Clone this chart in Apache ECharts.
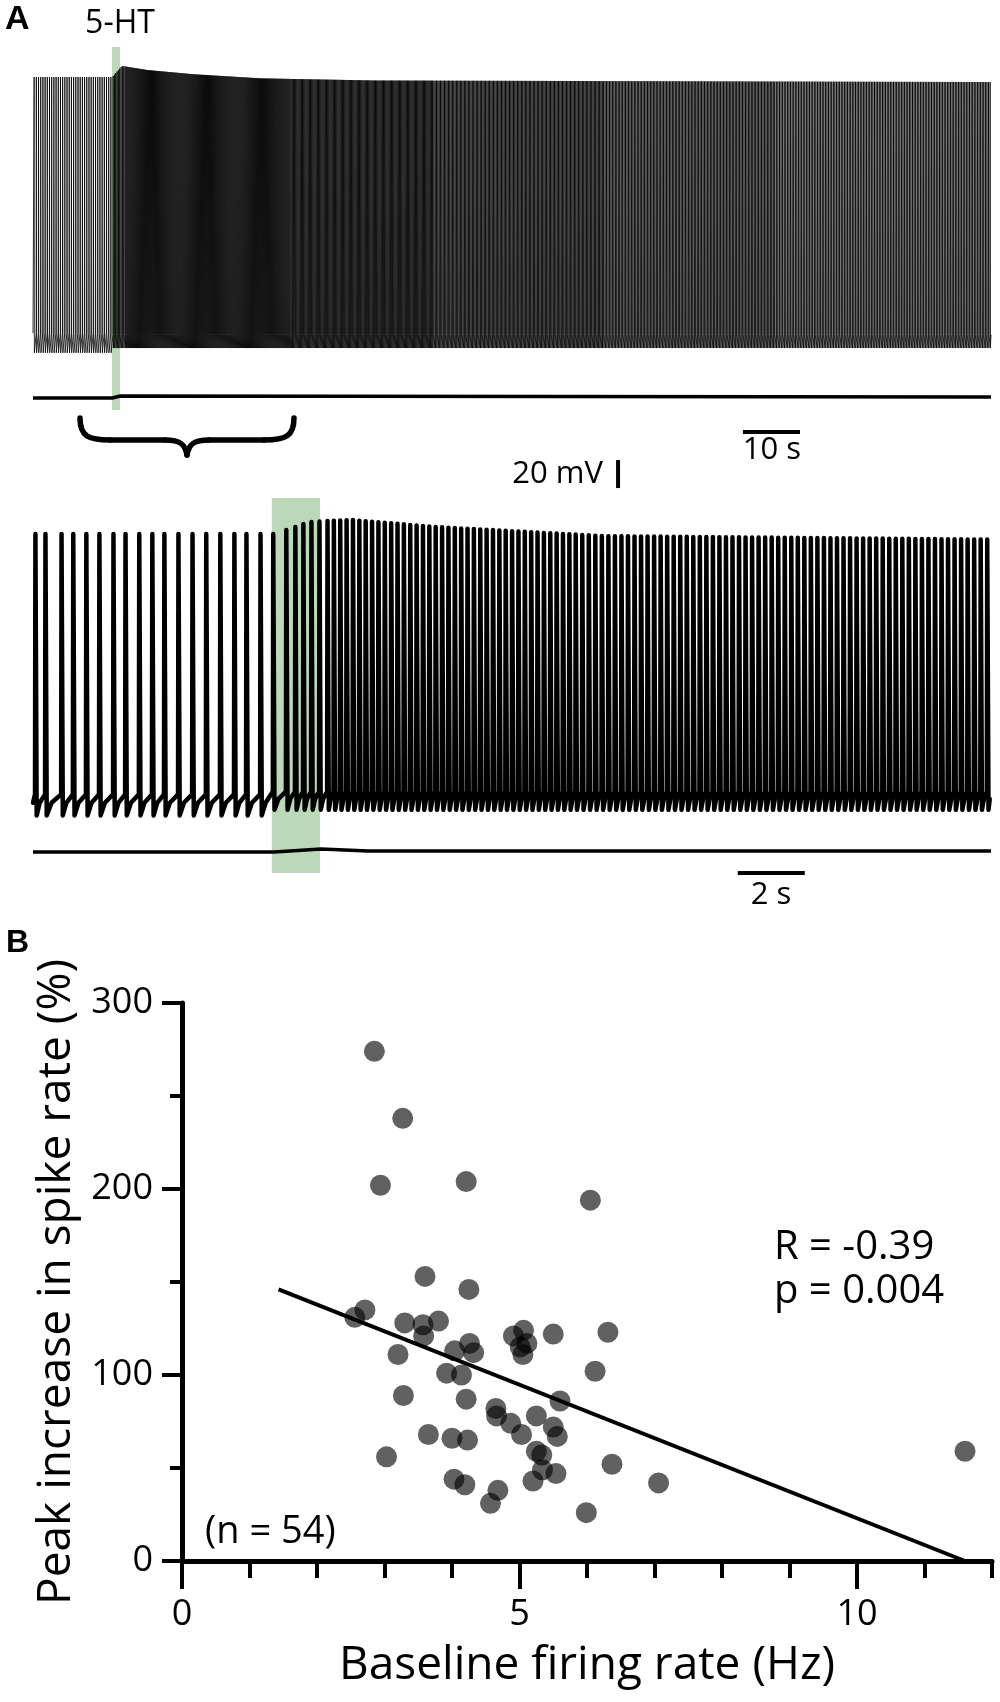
<!DOCTYPE html>
<html>
<head>
<meta charset="utf-8">
<script src="https://cdn.jsdelivr.net/npm/echarts@6/dist/echarts.min.js"></script>
<style>
html, body { margin: 0; padding: 0; background: #fff; }
#main { width: 1000px; height: 1702px; }
</style>
</head>
<body>
<div id="main"></div>
<script>
// ---- panel A, slow sweep (time in s, rate in Hz, voltage in mV of the 20 mV bar) ----
var topSegStart = [0, 13.9, 16, 45, 70, 100, 130];
var topSegRate = [2.6, 4.3, 5.6, 5.0, 4.3, 3.9, 3.6];
var topPeakT = [0, 13.9, 15.6, 20, 28, 40, 60, 168];
var topPeakMv = [0, 0, 7.9, 5, 2, -1, -2.5, -3.6];
var topThrMv = [-183, -184];      // before / after 5-HT
var topTroughMv = [-197, -193.6];
var topCurT = [0, 13.9, 15.3, 168];
var topCurPa = [0, 0, 2, 1];
var topDrugT = [13.85, 15.26];
var topEndT = 168;
var topBar10s = [124.5, 134.5];
var voltBarT = 102.6;

// ---- panel A, fast sweep ----
var botSpikeT = [0.06, 0.36, 0.84, 1.19, 1.58, 1.97, 2.39, 2.75, 3.16, 3.55, 3.91, 4.33, 4.75,
  5.16, 5.58, 6.0, 6.36, 6.78, 7.16, 7.55, 7.82, 8.06, 8.30, 8.54, 8.78];
var botSegStart = [8.78, 16];
var botSegIsi = [0.19, 0.195];
var botEndT = 28.6;
var botPeakT = [0, 7.16, 7.55, 7.82, 8.06, 8.30, 8.54, 9.5, 12, 17, 28.6];
var botPeakMv = [0, 0, 2.9, 5, 7.1, 8.6, 9, 10, 5, -1.5, -4];
var botThrMv = [-186, -184];
var botTroughMv = [-201, -197];
var botCurT = [0, 7.2, 8.6, 10, 28.6];
var botCurPa = [-1, -1, 2, 0, 0];
var botDrugT = [7.13, 8.57];
var botBar2s = [21.04, 23.04];

// ---- panel B ----
var baseRate = [2.85, 3.27, 2.94, 4.21, 6.05, 3.60, 4.25, 2.56, 2.71, 3.30, 3.57, 3.58, 3.80, 3.20,
  4.04, 4.26, 4.32, 4.91, 5.06, 5.11, 5.01, 5.05, 5.50, 6.31, 6.12, 3.92, 4.14, 3.28, 4.21, 4.65,
  4.66, 4.87, 5.25, 5.60, 5.03, 5.50, 5.56, 3.65, 4.00, 4.23, 3.03, 5.25, 5.33, 5.34, 5.54, 5.20,
  6.37, 7.06, 4.03, 4.19, 4.68, 4.57, 5.99, 11.6];
var peakIncrease = [274, 238, 202, 204, 194, 153, 146, 131, 135, 128, 127, 121, 129, 111, 113,
  117, 112, 121, 124, 117, 115, 111, 122, 123, 102, 101, 100, 89, 87, 82, 78, 74, 78, 86, 68,
  72, 67, 68, 66, 65, 56, 59, 57, 49, 47, 43, 52, 42, 44, 41, 38, 31, 26, 59];
var fitX = [1.43, 11.6];
var fitY = [146, 0];
var xTickLabels = [0, 5, 10];

function envelope(ts, vs, t) {
  for (var i = 1; i < ts.length; i++) {
    if (t <= ts[i]) {
      var f = (t - ts[i - 1]) / (ts[i] - ts[i - 1]);
      return vs[i - 1] + f * (vs[i] - vs[i - 1]);
    }
  }
  return vs[vs.length - 1];
}
function segIndex(starts, t) {
  var i = 0;
  while (i + 1 < starts.length && t >= starts[i + 1]) i++;
  return i;
}
function zipXY(xs, ys) {
  return xs.map(function (x, i) { return [x, ys[i]]; });
}

// spike times of the slow sweep, from the rate table
var topSpikes = [];
var t = 0.2;
while (t < topEndT - 0.1) {
  topSpikes.push(t);
  t += 1 / topSegRate[segIndex(topSegStart, t)];
}
var topTrace = [[0, topThrMv[0]]];
topSpikes.forEach(function (s) {
  var k = s > topDrugT[0] ? 1 : 0;
  topTrace.push([s - 0.03, topThrMv[k]], [s, envelope(topPeakT, topPeakMv, s)], [s + 0.04, topTroughMv[k]]);
});
topTrace.push([topEndT, topThrMv[1]]);

// spike times of the fast sweep
var botSpikes = botSpikeT.slice();
t = botSpikeT[botSpikeT.length - 1];
while (true) {
  t += botSegIsi[segIndex(botSegStart, t)];
  if (t > botEndT - 0.05) break;
  botSpikes.push(t);
}
var botTrace = [[0, botThrMv[0] - 6]];
botSpikes.forEach(function (s, i) {
  var k = s > botDrugT[0] ? 1 : 0;
  var isi = (i + 1 < botSpikes.length ? botSpikes[i + 1] : botEndT) - s;
  var thr = botThrMv[k], tr = botTroughMv[k];
  botTrace.push([s, thr], [s + 0.012, envelope(botPeakT, botPeakMv, s)], [s + 0.05, tr],
    [s + 0.05 + 0.3 * isi, tr + 0.6 * (thr - tr)]);
});

var green = 'rgba(120,180,115,0.5)';
var font = '"Open Sans", "Noto Sans", sans-serif';
var braceStyle = { stroke: '#000', lineWidth: 5.5, fill: null, lineCap: 'round' };

var chart = echarts.init(document.getElementById('main'));
var option = {
  animation: false,
  backgroundColor: '#fff',
  grid: [
    { left: 33, top: 40, width: 958, height: 460 },
    { left: 33, top: 470, width: 958, height: 420 },
    { left: 182, top: 1003, width: 810, height: 558 }
  ],
  xAxis: [
    { gridIndex: 0, type: 'value', min: 0, max: topEndT, show: false },
    { gridIndex: 1, type: 'value', min: 0, max: botEndT, show: false },
    {
      gridIndex: 2, type: 'value', min: 0, max: 12, interval: 1, position: 'bottom',
      axisLine: { lineStyle: { color: '#000', width: 5 } },
      axisTick: { length: 17, lineStyle: { color: '#000', width: 4 } },
      axisLabel: { show: false },
      splitLine: { show: false }
    },
    {
      gridIndex: 2, type: 'value', min: 0, max: 12, position: 'bottom',
      axisLine: { show: false },
      axisTick: { customValues: xTickLabels, length: 28, lineStyle: { color: '#000', width: 4 } },
      axisLabel: { customValues: xTickLabels, fontSize: 36, color: '#000', fontFamily: font, margin: 36 },
      splitLine: { show: false },
      name: 'Baseline firing rate (Hz)',
      nameLocation: 'middle',
      nameGap: 82,
      nameTextStyle: { fontSize: 46, color: '#000', fontFamily: font }
    }
  ],
  yAxis: [
    { gridIndex: 0, type: 'value', min: -302.14, max: 26.43, show: false },
    { gridIndex: 0, type: 'value', min: -102, max: 358, show: false },
    { gridIndex: 1, type: 'value', min: -254.29, max: 45.71, show: false },
    { gridIndex: 1, type: 'value', min: -39, max: 381, show: false },
    {
      gridIndex: 2, type: 'value', min: 0, max: 300, interval: 100,
      axisLine: { show: true, lineStyle: { color: '#000', width: 5 } },
      axisTick: { show: true, length: 20, lineStyle: { color: '#000', width: 4 } },
      minorTick: { show: true, splitNumber: 2, length: 12, lineStyle: { color: '#000', width: 4 } },
      axisLabel: { fontSize: 36, color: '#000', fontFamily: font, margin: 29 },
      splitLine: { show: false },
      minorSplitLine: { show: false },
      name: 'Peak increase in spike rate (%)',
      nameLocation: 'middle',
      nameGap: 98,
      nameTextStyle: { fontSize: 46, color: '#000', fontFamily: font }
    }
  ],
  series: [
    {
      type: 'line', xAxisIndex: 0, yAxisIndex: 0, data: topTrace, showSymbol: false, z: 2,
      lineStyle: { color: '#000', width: 0.8 }
    },
    {
      type: 'line', xAxisIndex: 0, yAxisIndex: 1, data: zipXY(topCurT, topCurPa), showSymbol: false,
      lineStyle: { color: '#000', width: 3.5 }
    },
    {
      type: 'line', xAxisIndex: 0, yAxisIndex: 0, data: [], z: 5,
      markArea: {
        silent: true, itemStyle: { color: green },
        data: [[{ coord: [topDrugT[0], 21.4] }, { coord: [topDrugT[1], -237.9] }]]
      }
    },
    {
      type: 'line', xAxisIndex: 0, yAxisIndex: 0, showSymbol: false,
      data: [[topBar10s[0], -253.6], [topBar10s[1], -253.6]],
      lineStyle: { color: '#000', width: 4 }
    },
    {
      type: 'line', xAxisIndex: 0, yAxisIndex: 0, showSymbol: false,
      data: [[voltBarT, -273.6], [voltBarT, -293.6]],
      lineStyle: { color: '#000', width: 4 }
    },
    {
      type: 'line', xAxisIndex: 1, yAxisIndex: 2, data: botTrace, showSymbol: false, z: 2,
      lineStyle: { color: '#000', width: 4.5, join: 'round', cap: 'round' }
    },
    {
      type: 'line', xAxisIndex: 1, yAxisIndex: 3, data: zipXY(botCurT, botCurPa), showSymbol: false,
      lineStyle: { color: '#000', width: 3.5 }
    },
    {
      type: 'line', xAxisIndex: 1, yAxisIndex: 2, data: [], z: 5,
      markArea: {
        silent: true, itemStyle: { color: green },
        data: [[{ coord: [botDrugT[0], 25.71] }, { coord: [botDrugT[1], -242.14] }]]
      }
    },
    {
      type: 'line', xAxisIndex: 1, yAxisIndex: 2, showSymbol: false,
      data: [[botBar2s[0], -242.14], [botBar2s[1], -242.14]],
      lineStyle: { color: '#000', width: 4 }
    },
    {
      type: 'scatter', xAxisIndex: 2, yAxisIndex: 4, data: zipXY(baseRate, peakIncrease),
      symbolSize: 21, itemStyle: { color: 'rgba(0,0,0,0.62)', opacity: 1 }, z: 3
    },
    {
      type: 'line', xAxisIndex: 2, yAxisIndex: 4, data: zipXY(fitX, fitY), showSymbol: false, z: 4,
      lineStyle: { color: '#000', width: 4 }
    }
  ],
  graphic: [
    { type: 'text', x: 5, y: 20, style: { text: 'A', font: 'bold 34px "Liberation Sans", Arial', fill: '#000', verticalAlign: 'middle' } },
    { type: 'text', x: 6, y: 943, style: { text: 'B', font: 'bold 32px "Liberation Sans", Arial', fill: '#000', verticalAlign: 'middle' } },
    { type: 'text', x: 120, y: 24, style: { text: '5-HT', font: '32px ' + font, fill: '#000', align: 'center', verticalAlign: 'middle' } },
    { type: 'text', x: 603, y: 474, style: { text: '20 mV', font: '31px ' + font, fill: '#000', align: 'right', verticalAlign: 'middle' } },
    { type: 'text', x: 772, y: 450, style: { text: '10 s', font: '31px ' + font, fill: '#000', align: 'center', verticalAlign: 'middle' } },
    { type: 'text', x: 771, y: 895, style: { text: '2 s', font: '31px ' + font, fill: '#000', align: 'center', verticalAlign: 'middle' } },
    { type: 'text', x: 774, y: 1248, style: { text: 'R = -0.39', font: '40px ' + font, fill: '#000', verticalAlign: 'middle' } },
    { type: 'text', x: 774, y: 1292, style: { text: 'p = 0.004', font: '40px ' + font, fill: '#000', verticalAlign: 'middle' } },
    { type: 'text', x: 205, y: 1532, style: { text: '(n = 54)', font: '38px ' + font, fill: '#000', verticalAlign: 'middle' } },
    {
      type: 'group', x: 80, y: 418,
      children: [
        { type: 'bezierCurve', shape: { x1: 0, y1: 0, cpx1: 0, cpy1: 18, cpx2: 8, cpy2: 22, x2: 30, y2: 22 }, style: braceStyle },
        { type: 'line', shape: { x1: 30, y1: 22, x2: 85, y2: 22 }, style: braceStyle },
        { type: 'bezierCurve', shape: { x1: 85, y1: 22, cpx1: 100, cpy1: 22, cpx2: 105, cpy2: 26, x2: 107, y2: 37 }, style: braceStyle },
        { type: 'bezierCurve', shape: { x1: 107, y1: 37, cpx1: 109, cpy1: 26, cpx2: 114, cpy2: 22, x2: 129, y2: 22 }, style: braceStyle },
        { type: 'line', shape: { x1: 129, y1: 22, x2: 184, y2: 22 }, style: braceStyle },
        { type: 'bezierCurve', shape: { x1: 184, y1: 22, cpx1: 206, cpy1: 22, cpx2: 214, cpy2: 18, x2: 214, y2: 0 }, style: braceStyle }
      ]
    }
  ]
};
chart.setOption(option);
</script>
</body>
</html>
